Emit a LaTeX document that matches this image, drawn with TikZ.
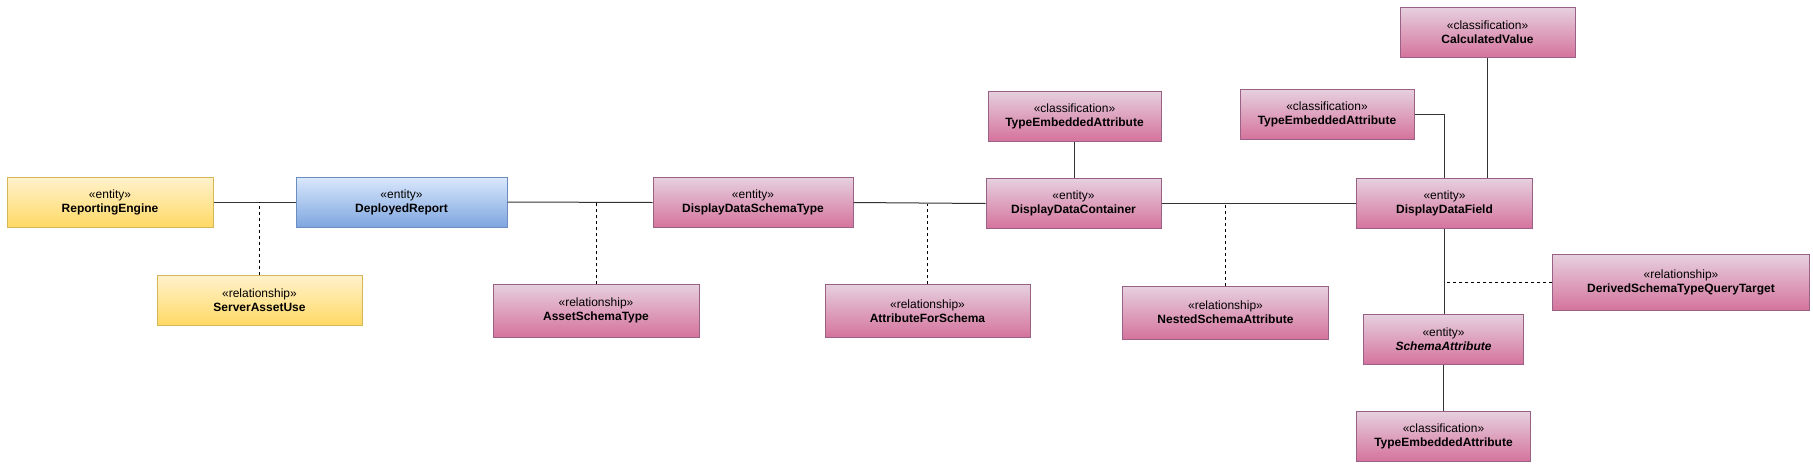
\documentclass[tikz,border=0pt]{standalone}
\usepackage{fontspec}
\setmainfont{Liberation Sans}
\definecolor{yelT}{HTML}{FFF2CC}
\definecolor{yelB}{HTML}{FFD966}
\definecolor{yelD}{HTML}{D6B656}
\definecolor{bluT}{HTML}{DAE8FC}
\definecolor{bluB}{HTML}{7EA6E0}
\definecolor{bluD}{HTML}{6C8EBF}
\definecolor{pnkT}{HTML}{E6D0DE}
\definecolor{pnkB}{HTML}{D5739D}
\definecolor{pnkD}{HTML}{996185}
\definecolor{lineC}{HTML}{333333}
\begin{document}
\begin{tikzpicture}[x=1pt,y=-1pt,
  box/.style={rectangle, line width=1pt, inner sep=0pt, align=center,
    font=\fontsize{12}{14}\selectfont, minimum height=50pt},
  yel/.style={box, draw=yelD, top color=yelT, bottom color=yelB},
  blu/.style={box, draw=bluD, top color=bluT, bottom color=bluB},
  pnk/.style={box, draw=pnkD, top color=pnkT, bottom color=pnkB},
  conn/.style={draw=lineC, line width=1pt},
  relconn/.style={draw=black, line width=1pt, dash pattern=on 3pt off 3pt}]
\useasboundingbox (0,0) rectangle (1813,474);

\node[yel, minimum width=206pt] (re) at (110,202) {«entity»\\\textbf{ReportingEngine}};
\node[blu, minimum width=211pt] (dr) at (401.5,202) {«entity»\\\textbf{DeployedReport}};
\node[yel, minimum width=205pt] (sau) at (259.5,300) {«relationship»\\\textbf{ServerAssetUse}};
\node[pnk, minimum width=200pt] (ddst) at (753,202.5) {«entity»\\\textbf{DisplayDataSchemaType}};
\node[pnk, minimum width=206pt, minimum height=53pt] (ast) at (596,310.5) {«relationship»\\\textbf{AssetSchemaType}};
\node[pnk, minimum width=205pt, minimum height=53pt] (afs) at (927.5,310.8) {«relationship»\\\textbf{AttributeForSchema}};
\node[pnk, minimum width=173pt] (tea1) at (1074.5,116) {«classification»\\\textbf{TypeEmbeddedAttribute}};
\node[pnk, minimum width=175pt] (ddc) at (1073.5,203.5) {«entity»\\\textbf{DisplayDataContainer}};
\node[pnk, minimum width=206pt, minimum height=53pt] (nsa) at (1225.5,312.7) {«relationship»\\\textbf{NestedSchemaAttribute}};
\node[pnk, minimum width=175pt] (cv) at (1487.5,32.3) {«classification»\\\textbf{CalculatedValue}};
\node[pnk, minimum width=174pt] (tea2) at (1327,114.3) {«classification»\\\textbf{TypeEmbeddedAttribute}};
\node[pnk, minimum width=176pt] (ddf) at (1444.5,203.5) {«entity»\\\textbf{DisplayDataField}};
\node[pnk, minimum width=257pt, minimum height=56pt] (dst) at (1681,282.5) {«relationship»\\\textbf{DerivedSchemaTypeQueryTarget}};
\node[pnk, minimum width=160pt] (sa) at (1443.5,339.3) {«entity»\\\textbf{\itshape SchemaAttribute}};
\node[pnk, minimum width=174pt] (tea3) at (1443.5,436.3) {«classification»\\\textbf{TypeEmbeddedAttribute}};

\draw[conn] (re.east) -- (dr.east -| dr.west);
\draw[relconn] (sau.north) -- (sau.north |- re.east);
\draw[conn] (dr.east) -- (ddst.west);
\draw[relconn] (ast.north) -- (ast.north |- ddst.west);
\draw[conn] (ddst.east) -- (ddc.west);
\draw[relconn] (afs.north) -- (afs.north |- ddc.west);
\draw[conn] (tea1.south) -- (tea1.south |- ddc.north);
\draw[conn] (ddc.east) -- (ddf.west);
\draw[relconn] (nsa.north) -- (nsa.north |- ddf.west);
\draw[conn] (tea2.east) -| (ddf.north);
\draw[conn] (cv.south) -- (cv.south |- ddf.north);
\draw[conn] (ddf.south) -- (ddf.south |- sa.north);
\draw[relconn] (dst.west) -- (dst.west -| ddf.south);
\draw[conn] (sa.south) -- (sa.south |- tea3.north);
\end{tikzpicture}
\end{document}
